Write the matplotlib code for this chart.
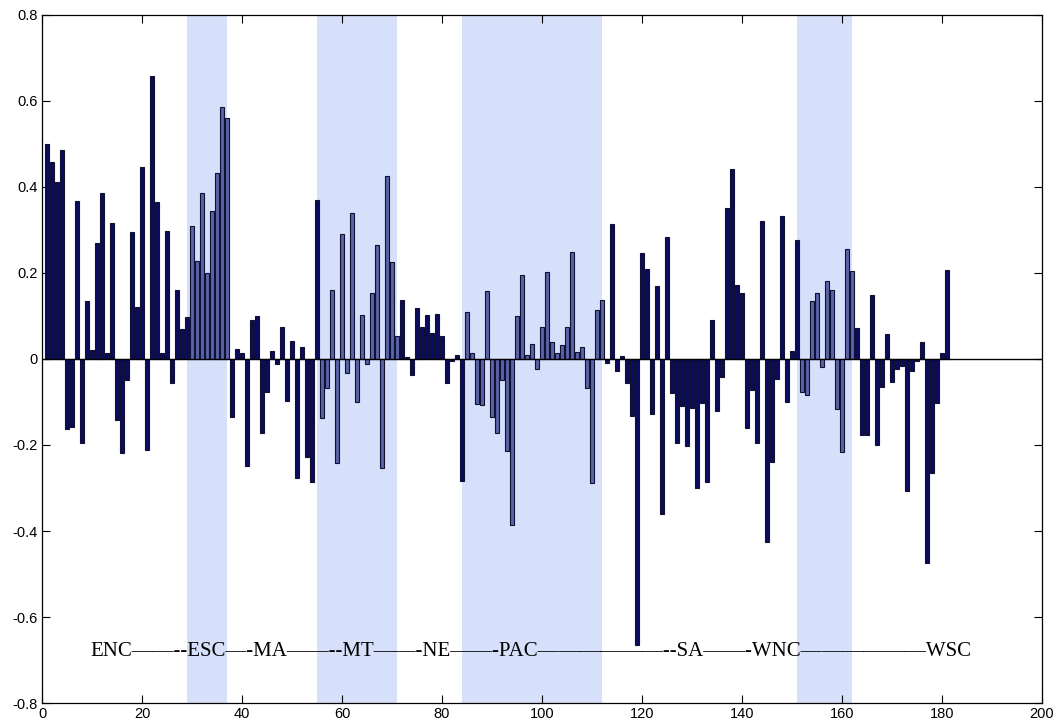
import numpy as np
import matplotlib
matplotlib.use('Agg')
import matplotlib.pyplot as plt

# valores (indice 1..181)
valores = [
    0.50, 0.459, 0.412, 0.487, -0.163, -0.157, 0.368, -0.196, 0.135, 0.02,
    0.27, 0.385, 0.015, 0.316, -0.142, -0.219, -0.049, 0.296, 0.122, 0.447,
    -0.212, 0.658, 0.366, 0.013, 0.298, -0.056, 0.16, 0.07, 0.097, 0.31,
    0.229, 0.385, 0.2, 0.343, 0.432, 0.587, 0.561, -0.134, 0.024, 0.014,
    -0.25, 0.09, 0.1, -0.171, -0.076, 0.019, -0.012, 0.074, -0.097, 0.042,
    -0.277, 0.027, -0.229, -0.285, 0.37, -0.138, -0.068, 0.16, -0.242, 0.29,
    -0.033, 0.339, -0.099, 0.102, -0.012, 0.153, 0.264, -0.254, 0.426, 0.225,
    0.053, 0.137, 0.005, -0.037, 0.119, 0.075, 0.102, 0.061, 0.105, 0.053,
    -0.055, -0.004, 0.009, -0.283, 0.109, 0.015, -0.105, -0.108, 0.159, -0.136,
    -0.171, -0.05, -0.213, -0.387, 0.1, 0.195, 0.009, 0.035, -0.024, 0.074,
    0.202, 0.04, 0.015, 0.033, 0.074, 0.248, 0.017, 0.029, -0.068, -0.289,
    0.114, 0.137, -0.009, 0.314, -0.029, 0.008, -0.055, -0.133, -0.665, 0.246,
    0.209, -0.129, 0.17, -0.36, 0.284, -0.078, -0.196, -0.109, -0.202, -0.115,
    -0.3, -0.103, -0.285, 0.091, -0.12, -0.041, 0.35, 0.441, 0.172, 0.153,
    -0.161, -0.071, -0.196, 0.321, -0.425, -0.239, -0.047, 0.333, -0.099, 0.019,
    0.277, -0.076, -0.084, 0.135, 0.153, -0.019, 0.181, 0.16, -0.117, -0.216,
    0.255, 0.205, 0.073, -0.177, -0.177, 0.149, -0.2, -0.065, 0.058, -0.053,
    -0.024, -0.017, -0.307, -0.027, -0.004, 0.04, -0.475, -0.265, -0.103, 0.015,
    0.207,
]

# regioes: nome e primeiro indice de cada grupo
regioes = ['ENC', 'ESC', 'MA', 'MT', 'NE', 'PAC', 'SA', 'WNC', 'WSC']
inicio_regiao = [1, 30, 38, 56, 72, 85, 113, 152, 163]
regioes_sombreadas = ['ESC', 'MT', 'PAC', 'WNC']

rotulo_regioes = 'ENC——--ESC—-MA——--MT——-NE——-PAC——————--SA——-WNC——————WSC'

yticks = [-0.8, -0.6, -0.4, -0.2, 0, 0.2, 0.4, 0.6, 0.8]
ytick_labels = ['-0.8', '-0.6', '-0.4', '-0.2', '0', '0.2', '0.4', '0.6', '0.8']
xticks = [0, 20, 40, 60, 80, 100, 120, 140, 160, 180, 200]

cor_escura = '#0b0b5e'
cor_clara = '#5a63a8'
cor_fundo = '#d6e0fa'

x = np.arange(1, len(valores) + 1)
fim_regiao = inicio_regiao[1:] + [len(valores)]

cores = [cor_escura] * len(valores)
fig = plt.figure(figsize=(10.58, 7.27), dpi=100)
ax = fig.add_axes([0.0397, 0.033, 0.9452, 0.9464])

for nome, ini, fim in zip(regioes, inicio_regiao, fim_regiao):
    if nome in regioes_sombreadas:
        ultimo = fim - 1 if fim != len(valores) else fim
        ax.axvspan(ini - 1, ultimo, color=cor_fundo, lw=0, zorder=0)
        for k in range(ini, ultimo + 1):
            cores[k - 1] = cor_clara

ax.bar(x, valores, width=0.85, color=cores, edgecolor='#101030', linewidth=0.8, zorder=2)
ax.axhline(0, color='black', lw=1, zorder=3)

ax.text(9.6, -0.68, rotulo_regioes, family='Liberation Serif', fontsize=15,
        ha='left', va='center', zorder=4)

ax.set_xlim(0, 200)
ax.set_ylim(-0.8, 0.8)
ax.set_xticks(xticks)
ax.set_xticklabels([str(t) for t in xticks])
ax.set_yticks(yticks)
ax.set_yticklabels(ytick_labels)
ax.tick_params(direction='in', length=6, width=0.8, top=True, right=True,
               labelsize=10.5, pad=3)
for lab in ax.get_xticklabels() + ax.get_yticklabels():
    lab.set_family('Liberation Sans')
for s in ax.spines.values():
    s.set_linewidth(0.9)

fig.savefig('out.png', dpi=100)
